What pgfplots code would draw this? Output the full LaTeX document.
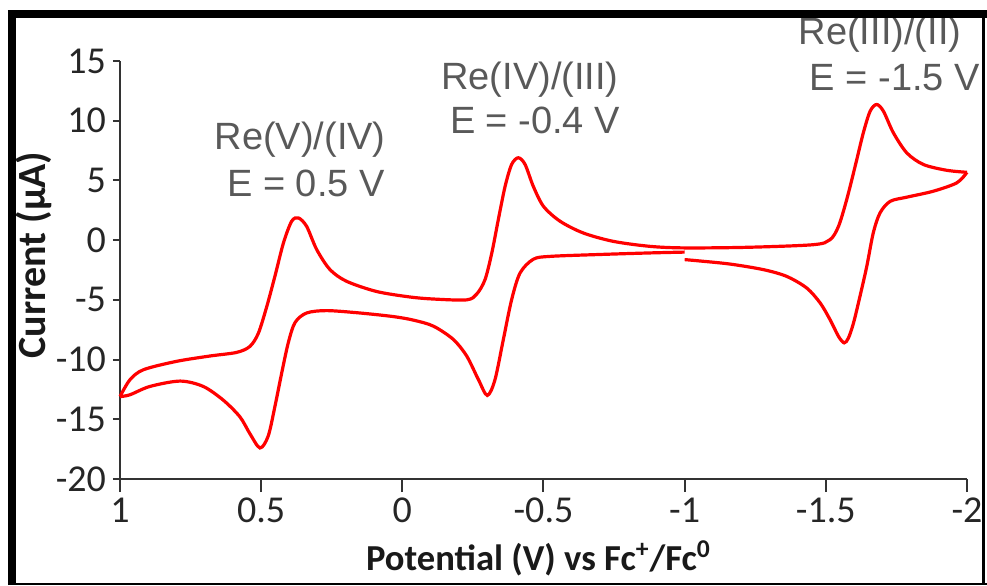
\documentclass[border=0pt]{standalone}
\usepackage{fontspec}
\setmainfont{Carlito}
\newfontfamily\arial{Liberation Sans}
\usepackage{pgfplots}
\pgfplotsset{compat=1.18}
\begin{document}
\begin{tikzpicture}
\useasboundingbox (-60pt,-53pt) rectangle (433.5pt,239.5pt);
\begin{scope}
\clip (-52pt,-52pt) rectangle (431pt,230.5pt);
\begin{axis}[
  at={(0,0)}, anchor=south west,
  scale only axis, width=423.5pt, height=209pt,
  xmin=-2, xmax=1, ymin=-20, ymax=15, x dir=reverse,
  axis x line*=bottom, axis y line*=left,
  axis line style={black!80, line width=1pt},
  tick align=outside,
  major tick length=3.5pt,
  xtick style={/pgfplots/major tick length=6.5pt},
  tick style={black!80, line width=1pt},
  xtick={-2,-1.5,-1,-0.5,0,0.5,1},
  xticklabels={-2,-1.5,-1,-0.5,0,0.5,1},
  ytick={-20,-15,-10,-5,0,5,10,15},
  yticklabels={-20,-15,-10,-5,0,5,10,15},
  tick label style={font=\fontsize{19pt}{22pt}\selectfont, text=black!85},
  xticklabel style={yshift=-2.5pt},
  xlabel={\textbf{Potential (V) vs Fc\textsuperscript{+}/Fc\textsuperscript{0}}},
  ylabel={\textbf{Current (μA)}},
  xlabel style={font=\fontsize{18.3pt}{22pt}\selectfont, text=black!90, at={(axis description cs:0.5,0)}, anchor=base, xshift=-2.5pt, yshift=-45.5pt},
  ylabel style={font=\fontsize{20pt}{22pt}\selectfont, text=black!90, at={(axis description cs:0,0.536)}, anchor=base, yshift=37pt},
  clip=false,
]
% lower branch, from -1.0 V towards +1.0 V
\addplot[red, line width=1.6pt, smooth, tension=0.5] coordinates {
(-1.0,-1.0) (-0.877,-1.07) (-0.70,-1.2) (-0.523,-1.36) (-0.464,-1.6)
(-0.417,-2.75) (-0.387,-5.0) (-0.358,-8.3) (-0.328,-11.7) (-0.301,-13.0)
(-0.27,-11.7) (-0.228,-9.7) (-0.18,-8.3) (-0.11,-7.2) (-0.04,-6.7)
(0.032,-6.4) (0.15,-6.1) (0.268,-5.9) (0.339,-6.1) (0.38,-6.9)
(0.404,-8.6) (0.427,-11.1) (0.451,-13.9) (0.475,-16.4) (0.504,-17.4)
(0.54,-16.2) (0.575,-14.8) (0.634,-13.4) (0.705,-12.25) (0.787,-11.8)
(0.894,-12.25) (0.965,-12.95) (1.0,-13.1)
};
% upper branch, from +1.0 V to -2.0 V
\addplot[red, line width=1.6pt, smooth, tension=0.5] coordinates {
(1.0,-13.1) (0.965,-11.7) (0.917,-10.85) (0.80,-10.15) (0.681,-9.7)
(0.587,-9.4) (0.54,-8.9) (0.51,-7.8) (0.48,-5.55) (0.451,-3.0)
(0.421,-0.23) (0.392,1.58) (0.368,1.86) (0.339,1.16) (0.303,-0.8)
(0.256,-2.47) (0.197,-3.45) (0.091,-4.3) (-0.027,-4.76) (-0.11,-4.93)
(-0.228,-5.0) (-0.264,-4.5) (-0.293,-3.3) (-0.317,-1.07) (-0.34,1.72)
(-0.364,4.5) (-0.387,6.33) (-0.411,6.9) (-0.435,6.33) (-0.464,4.5)
(-0.50,2.83) (-0.559,1.58) (-0.641,0.6) (-0.747,-0.1) (-0.877,-0.52)
(-1.0,-0.65) (-1.22,-0.6) (-1.456,-0.38) (-1.515,0.04) (-1.545,1.16)
(-1.574,3.4) (-1.604,6.2) (-1.633,9.0) (-1.657,10.8) (-1.68,11.36)
(-1.704,10.8) (-1.739,9.0) (-1.787,7.3) (-1.846,6.33) (-1.928,5.85)
(-2.0,5.68)
};
% return branch, from -2.0 V to -1.0 V
\addplot[red, line width=1.6pt, smooth, tension=0.5] coordinates {
(-2.0,5.68) (-1.964,4.8) (-1.881,4.1) (-1.787,3.6) (-1.728,3.25)
(-1.692,2.28) (-1.668,0.6) (-1.645,-2.2) (-1.621,-4.7) (-1.598,-6.94)
(-1.58,-8.2) (-1.565,-8.6) (-1.545,-8.06) (-1.515,-6.66) (-1.48,-5.26)
(-1.432,-4.0) (-1.361,-3.03) (-1.279,-2.47) (-1.16,-2.0) (-1.043,-1.72)
(-1.0,-1.63)
};
\begin{scope}[every node/.style={anchor=base, font=\arial\fontsize{19pt}{22pt}\selectfont, text=black!65, inner sep=0pt}]
\node at (axis cs:0.362,7.59) {Re(V)/(IV)};
\node at (axis cs:0.341,3.65) {E = 0.5 V};
\node at (axis cs:-0.452,12.61) {Re(IV)/(III)};
\node at (axis cs:-0.470,8.93) {E = -0.4 V};
\node at (axis cs:-1.692,16.39) {Re(III)/(II)};
\node at (axis cs:-1.745,12.53) {E = -1.5 V};
\end{scope}
\end{axis}
\end{scope}
\draw[black, line width=4pt] (-54pt,-53pt) -- (-54pt,234.5pt);
\draw[black, line width=4pt] (-56pt,232.5pt) -- (433.5pt,232.5pt);
\draw[black, line width=1.5pt] (431.75pt,234pt) -- (431.75pt,-53pt);
\draw[black, line width=1pt] (-56pt,-52.5pt) -- (433.5pt,-52.5pt);
\end{tikzpicture}
\end{document}
